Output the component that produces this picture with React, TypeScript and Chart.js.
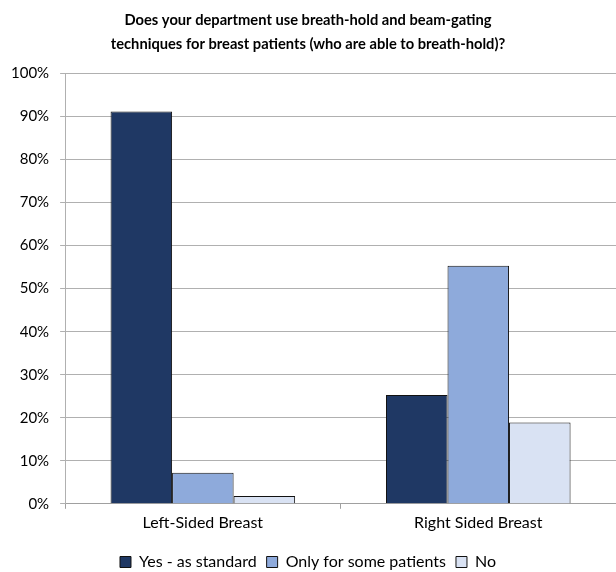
import React, { useEffect, useRef } from "react";
import { Chart, registerables } from "chart.js";

Chart.register(...registerables);

const categories = ["Left-Sided Breast", "Right Sided Breast"];
const seriesNames = ["Yes - as standard", "Only for some patients", "No"];
const yesValues = [91.2, 25.3];
const someValues = [7.2, 55.3];
const noValues = [1.8, 18.9];
const titleLines = [
  "Does your department use breath-hold and beam-gating",
  "techniques for breast patients (who are able to breath-hold)?",
];

const colors = ["#1F3864", "#8EAADB", "#D9E2F3"];
const FONT = "Lato, 'Open Sans', sans-serif";

export default function App() {
  const ref = useRef<HTMLCanvasElement | null>(null);
  useEffect(() => {
    if (!ref.current) return;
    const chart = new Chart(ref.current, {
      type: "bar",
      data: {
        labels: categories,
        datasets: [yesValues, someValues, noValues].map((d, i) => ({
          label: seriesNames[i],
          data: d,
          backgroundColor: colors[i],
          borderColor: "#111",
          borderWidth: 1,
          barPercentage: 1,
          categoryPercentage: 0.67,
        })),
      },
      options: {
        animation: false,
        responsive: false,
        maintainAspectRatio: false,
        layout: { padding: { left: 0, right: 0, top: 0, bottom: -8 } },
        plugins: {
          title: {
            display: true,
            text: titleLines,
            color: "#000",
            font: { family: FONT, size: 14.7, weight: "bold", lineHeight: 1.65 },
            padding: { top: 8, bottom: 17 },
          },
          legend: {
            position: "bottom",
            labels: {
              color: "#000",
              font: { family: FONT, size: 16 },
              boxWidth: 11,
              boxHeight: 11,
              padding: 10,
            },
          },
          tooltip: { enabled: false },
        },
        scales: {
          x: {
            grid: {
              display: true,
              drawOnChartArea: false,
              drawTicks: true,
              tickLength: 5,
              color: "#a0a0a0",
              offset: true,
            },
            border: { display: true, color: "#a0a0a0", width: 1 },
            ticks: {
              color: "#000",
              font: { family: FONT, size: 16 },
              padding: 4,
            },
            title: {
              display: true,
              text: " ",
              font: { family: FONT, size: 8, lineHeight: 1 },
              padding: { top: 0, bottom: 0 },
            },
          },
          y: {
            min: 0,
            max: 100,
            ticks: {
              stepSize: 10,
              color: "#000",
              font: { family: FONT, size: 15 },
              padding: 11,
              callback: (v: any) => v + "%",
            },
            grid: {
              color: "#b0b0b0",
              tickLength: 5,
              lineWidth: 1,
            },
            border: { display: true, color: "#b0b0b0", width: 1 },
          },
        },
      },
    });
    return () => chart.destroy();
  }, []);
  return (
    <div style={{ position: "fixed", left: 0, top: 0, width: 616, height: 572, background: "#fff" }}>
      <canvas ref={ref} width={616} height={572} style={{ display: "block" }} />
    </div>
  );
}
